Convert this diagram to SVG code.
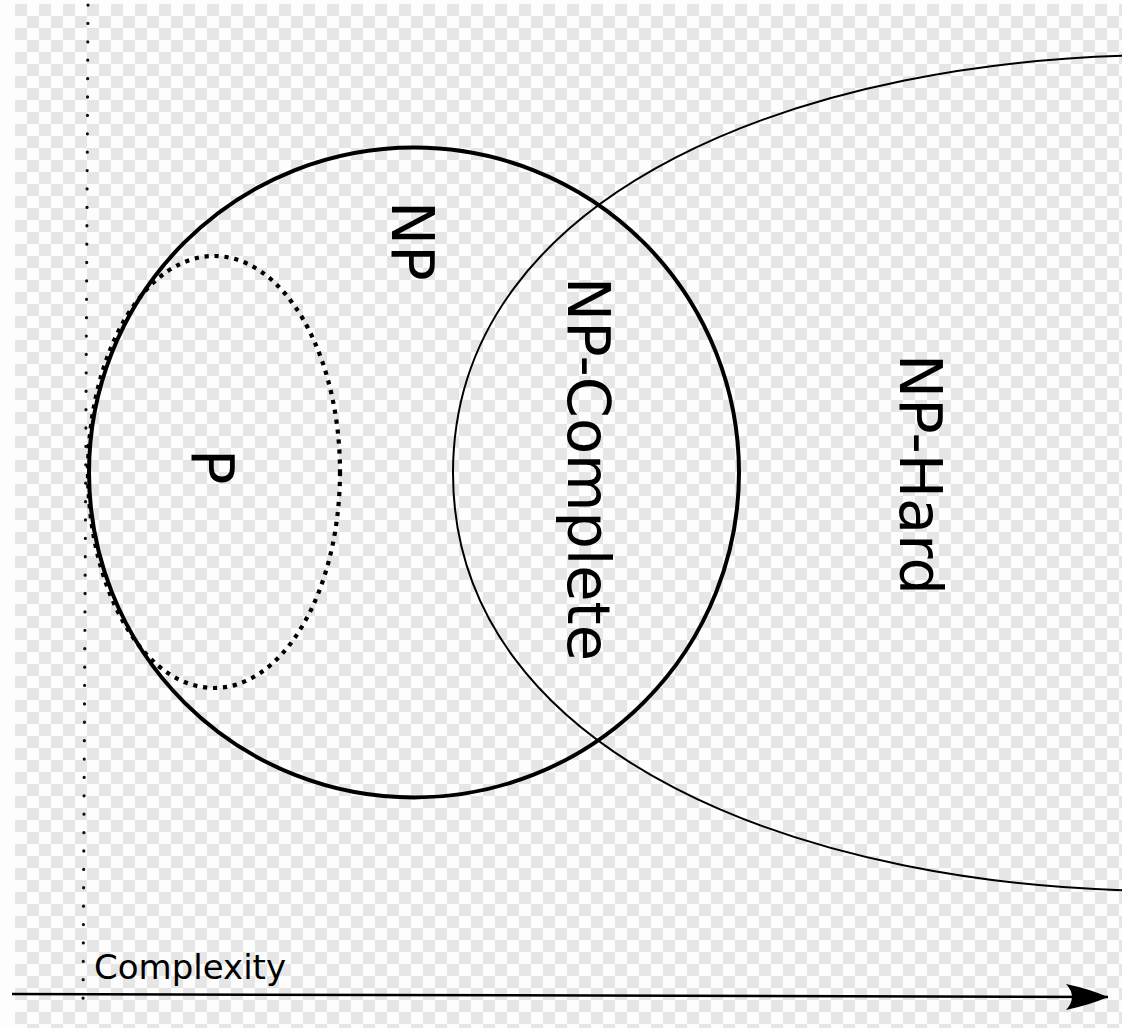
<svg xmlns="http://www.w3.org/2000/svg" width="1122" height="1028" viewBox="0 0 1122 1028">
  <defs>
    <pattern id="checker" x="15" y="4" width="24" height="24" patternUnits="userSpaceOnUse">
      <rect x="0" y="0" width="24" height="24" fill="#fdfdfd"/>
      <rect x="0" y="0" width="12" height="12" fill="#e6e6e6"/>
      <rect x="12" y="12" width="12" height="12" fill="#e6e6e6"/>
    </pattern>
    <marker id="arrow" markerUnits="userSpaceOnUse" markerWidth="50" markerHeight="32" refX="42" refY="16" orient="auto" overflow="visible">
      <path d="M42,16 Q24,8 0,3 Q12,16 0,29 Q24,24 42,16 Z" fill="#000"/>
    </marker>
  </defs>
  <style>
    .lbl { font-family: "DejaVu Sans", "Liberation Sans", sans-serif; fill: #000; }
    .big { font-size: 59px; }
    .axis { stroke: #000; stroke-width: 2.5; fill: none; }
  </style>
  <rect x="0" y="0" width="1122" height="1028" fill="#fdfdfd"/>
  <rect x="15" y="4" width="1107" height="1024" fill="url(#checker)"/>

  <g id="axes">
    <line x1="88" y1="5" x2="83" y2="1011" stroke="#111" stroke-width="3.2" stroke-linecap="round" stroke-dasharray="0.1 18.29"/>
    <line class="axis" x1="12" y1="994" x2="1108" y2="997" marker-end="url(#arrow)"/>
  </g>

  <g id="np-hard">
    <path d="M1170,55 C806,55 453,190 453,473 C453,756 806,891 1170,891" fill="none" stroke="#000" stroke-width="2"/>
    <text class="lbl big" transform="translate(900,354) rotate(90)">NP-Hard</text>
  </g>

  <g id="np">
    <circle cx="414" cy="472.5" r="325" fill="none" stroke="#000" stroke-width="4"/>
    <text class="lbl big" transform="translate(392,201) rotate(90)">NP</text>
  </g>

  <g id="p">
    <ellipse cx="214" cy="472" rx="126" ry="216" fill="none" stroke="#000" stroke-width="4.2" stroke-dasharray="4.2 5.8"/>
    <text class="lbl big" transform="translate(192,449) rotate(90)">P</text>
  </g>

  <g id="np-complete">
    <text class="lbl big" transform="translate(568,277) rotate(90)">NP-Complete</text>
  </g>

  <g id="complexity">
    <text class="lbl" x="94" y="979" font-size="34">Complexity</text>
  </g>
</svg>
